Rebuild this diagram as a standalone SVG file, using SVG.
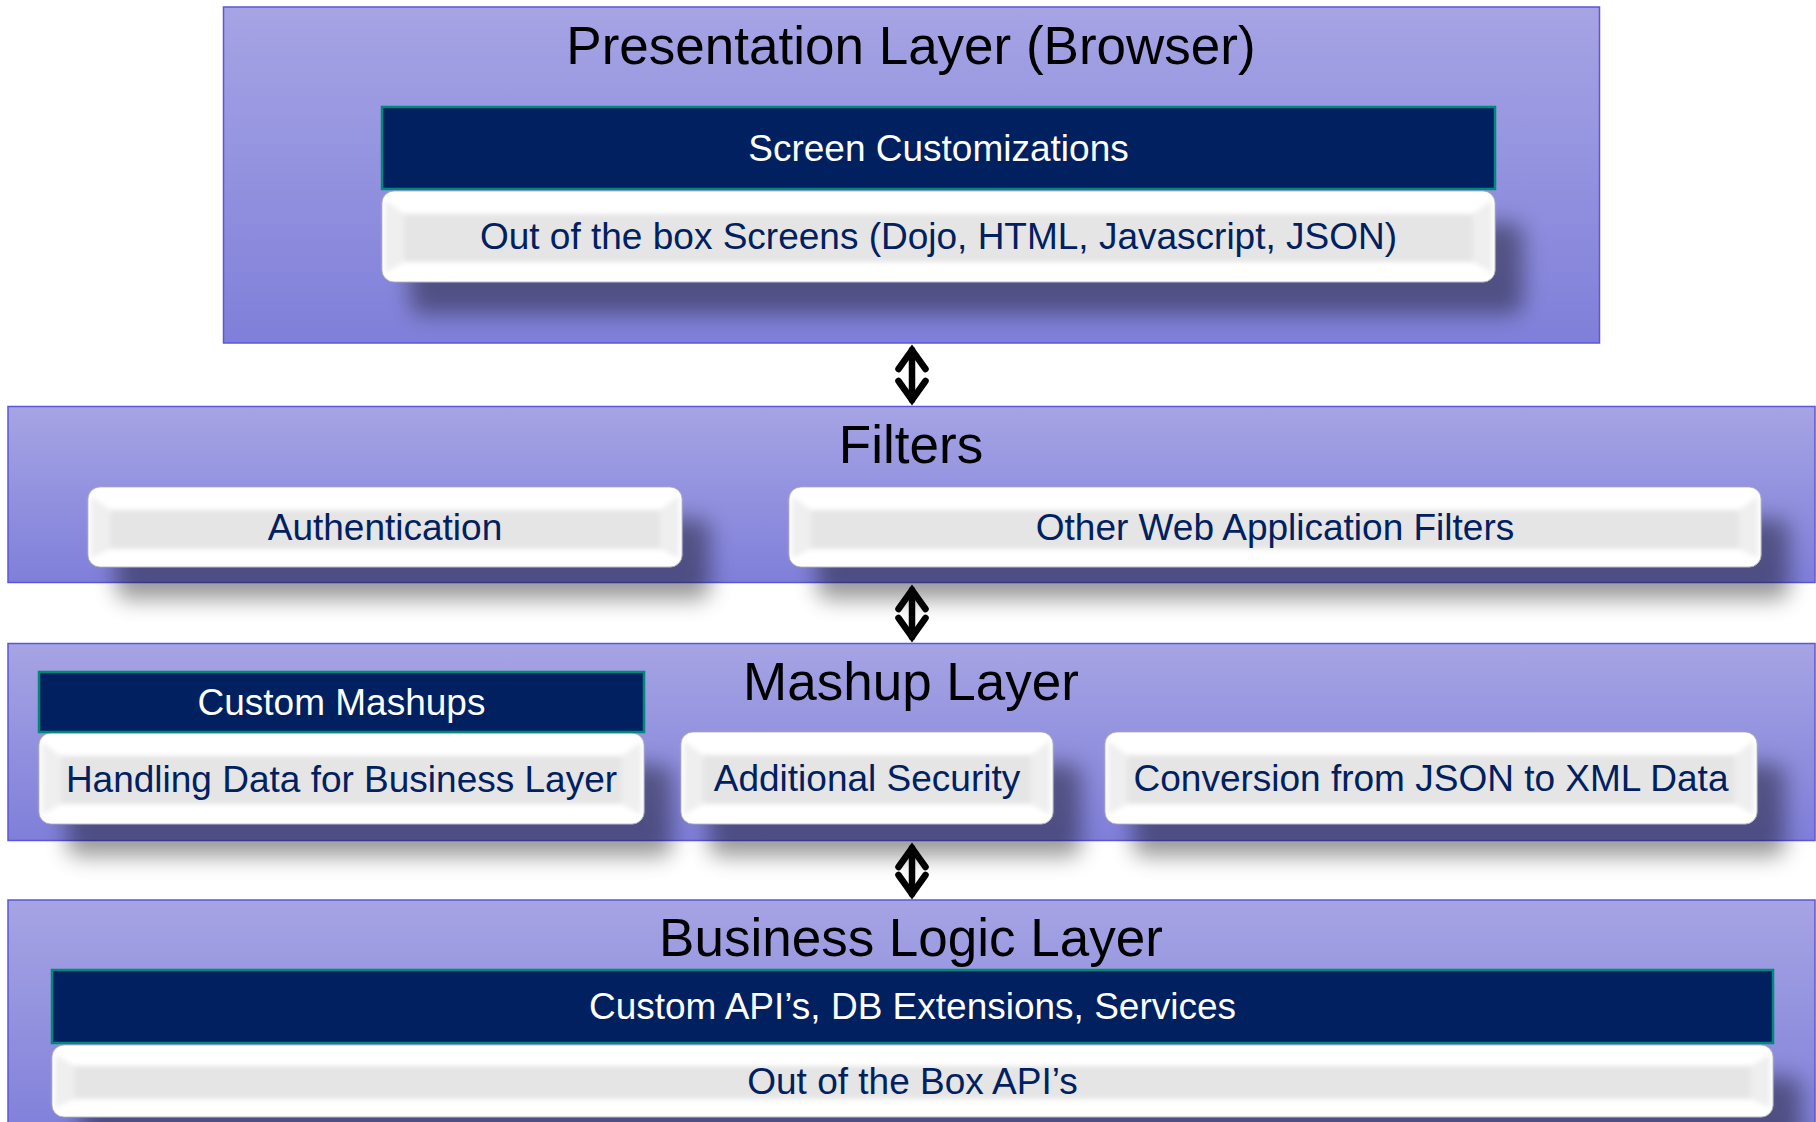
<svg xmlns="http://www.w3.org/2000/svg" width="1816" height="1122" viewBox="0 0 1816 1122">
<defs>
<style>
.layer{fill:url(#lg);stroke:#5b57d9;stroke-width:1.5}
.title{font-family:"Liberation Sans",Arial,sans-serif;font-size:53px;fill:#000;text-anchor:middle}
.lbl{font-family:"Liberation Sans",Arial,sans-serif;font-size:37px;fill:#002060;text-anchor:middle}
.bar{fill:#002060;stroke:#00897a;stroke-width:2.5}
.barT{font-family:"Liberation Sans",Arial,sans-serif;font-size:37px;fill:#fff;text-anchor:middle}
.bx{fill:#fff;stroke:#a8a8b8;stroke-width:0.8}
.face{fill:#e5e5e5}
.side{fill:#efefef}
.arr{fill:none;stroke:#000;stroke-width:6.5;stroke-linecap:round;marker-start:url(#ah);marker-end:url(#ah)}
</style>
<linearGradient id="lg" x1="0" y1="0" x2="0" y2="1">
<stop offset="0" stop-color="#a6a4e4"/>
<stop offset="1" stop-color="#7f7fda"/>
</linearGradient>
<filter id="sh" x="-10%" y="-40%" width="130%" height="230%">
<feGaussianBlur in="SourceAlpha" stdDeviation="11"/>
<feOffset dx="28" dy="32" result="o"/>
<feComponentTransfer><feFuncA type="linear" slope="0.4"/></feComponentTransfer>
<feMerge><feMergeNode/><feMergeNode in="SourceGraphic"/></feMerge>
</filter>
<filter id="soft" x="-5%" y="-30%" width="110%" height="160%">
<feGaussianBlur stdDeviation="2.5"/>
</filter>
<marker id="ah" markerUnits="userSpaceOnUse" viewBox="-30 -20 40 40" refX="0" refY="0" markerWidth="40" markerHeight="40" orient="auto-start-reverse" overflow="visible">
<path d="M-19,-13.5 L0,0 L-19,13.5" fill="none" stroke="#000" stroke-width="6.5" stroke-linecap="round" stroke-linejoin="miter"/>
</marker>
</defs>

<g id="presentation-layer">
<rect class="layer" x="223.5" y="7" width="1376" height="336"/>
<text class="title" x="911" y="64">Presentation Layer (Browser)</text>
</g>
<g id="screen-customizations">
<rect class="bar" x="382" y="107" width="1113" height="82"/>
<text class="barT" x="938.5" y="161">Screen Customizations</text>
</g>
<g id="ootb-screens">
<rect class="bx" x="382" y="191" width="1113" height="91" rx="12" filter="url(#sh)"/>
<g filter="url(#soft)">
<polygon class="side" points="385,200 404,214 404,262 385,273"/>
<polygon class="side" points="1492,200 1473,214 1473,262 1492,273"/>
<rect class="face" x="404" y="214" width="1069" height="48"/>
</g>
<text class="lbl" x="938.5" y="249">Out of the box Screens (Dojo, HTML, Javascript, JSON)</text>
</g>

<g id="filters-layer">
<rect class="layer" x="8" y="406.5" width="1807" height="176"/>
<text class="title" x="911" y="463">Filters</text>
</g>
<g id="authentication">
<rect class="bx" x="88" y="487" width="594" height="80" rx="12" filter="url(#sh)"/>
<g filter="url(#soft)">
<polygon class="side" points="91,496 110,510 110,549 91,558"/>
<polygon class="side" points="679,496 660,510 660,549 679,558"/>
<rect class="face" x="110" y="510" width="550" height="39"/>
</g>
<text class="lbl" x="385" y="540">Authentication</text>
</g>
<g id="other-filters">
<rect class="bx" x="789" y="487" width="972" height="80" rx="12" filter="url(#sh)"/>
<g filter="url(#soft)">
<polygon class="side" points="792,496 811,510 811,549 792,558"/>
<polygon class="side" points="1758,496 1739,510 1739,549 1758,558"/>
<rect class="face" x="811" y="510" width="928" height="39"/>
</g>
<text class="lbl" x="1275" y="540">Other Web Application Filters</text>
</g>

<g id="mashup-layer">
<rect class="layer" x="8" y="643.5" width="1807" height="197"/>
<text class="title" x="911" y="700">Mashup Layer</text>
</g>
<g id="handling-data">
<rect class="bx" x="39" y="733" width="605" height="91" rx="12" filter="url(#sh)"/>
<g filter="url(#soft)">
<polygon class="side" points="42,742 61,756 61,804 42,815"/>
<polygon class="side" points="641,742 622,756 622,804 641,815"/>
<rect class="face" x="61" y="756" width="561" height="48"/>
</g>
<text class="lbl" x="341.5" y="792">Handling Data for Business Layer</text>
</g>
<g id="custom-mashups">
<rect class="bar" x="39" y="672" width="605" height="60"/>
<text class="barT" x="341.5" y="715">Custom Mashups</text>
</g>
<g id="additional-security">
<rect class="bx" x="681" y="732" width="372" height="92" rx="12" filter="url(#sh)"/>
<g filter="url(#soft)">
<polygon class="side" points="684,741 703,755 703,804 684,815"/>
<polygon class="side" points="1050,741 1031,755 1031,804 1050,815"/>
<rect class="face" x="703" y="755" width="328" height="49"/>
</g>
<text class="lbl" x="867" y="791">Additional Security</text>
</g>
<g id="json-xml-conversion">
<rect class="bx" x="1105" y="732" width="652" height="92" rx="12" filter="url(#sh)"/>
<g filter="url(#soft)">
<polygon class="side" points="1108,741 1127,755 1127,804 1108,815"/>
<polygon class="side" points="1754,741 1735,755 1735,804 1754,815"/>
<rect class="face" x="1127" y="755" width="608" height="49"/>
</g>
<text class="lbl" x="1431" y="791">Conversion from JSON to XML Data</text>
</g>

<g id="business-layer">
<rect class="layer" x="8" y="900" width="1807" height="240"/>
<text class="title" x="911" y="956">Business Logic Layer</text>
</g>
<g id="custom-apis">
<rect class="bar" x="52" y="970" width="1721" height="73"/>
<text class="barT" x="912.5" y="1019">Custom API’s, DB Extensions, Services</text>
</g>
<g id="ootb-apis">
<rect class="bx" x="52" y="1045" width="1721" height="72" rx="12" filter="url(#sh)"/>
<g filter="url(#soft)">
<polygon class="side" points="55,1054 74,1066 74,1099 55,1108"/>
<polygon class="side" points="1770,1054 1751,1066 1751,1099 1770,1108"/>
<rect class="face" x="74" y="1066" width="1677" height="33"/>
</g>
<text class="lbl" x="912.5" y="1094">Out of the Box API’s</text>
</g>

<g id="connectors">
<path class="arr" d="M912,350 L912,400"/>
<path class="arr" d="M912,590 L912,637"/>
<path class="arr" d="M912,848 L912,894"/>
</g>
</svg>
